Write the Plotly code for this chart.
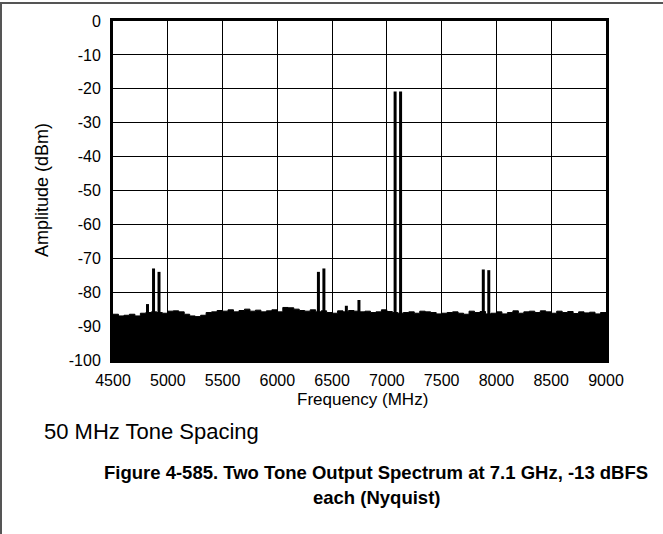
import plotly.graph_objects as go

# Noise floor envelope (dBm), every 50 MHz from 4500 to 9000
noise_freq = list(range(4500, 9001, 50))
noise_level = [
    -86.5, -87.0, -86.8, -86.5, -87.0, -86.2, -86.0, -85.8, -86.0, -86.2,
    -85.6, -85.5, -85.8, -86.5, -87.0, -87.2, -86.8, -86.0, -85.8, -85.4,
    -85.6, -85.2, -85.8, -85.4, -85.0, -85.6, -85.3, -85.8, -85.5, -85.2,
    -85.8, -84.5, -84.6, -85.0, -85.4, -85.6, -85.2, -85.8, -85.5, -86.0,
    -86.2, -85.5, -85.8, -85.4, -85.6, -85.8, -85.6, -86.0, -85.8, -85.2,
    -85.7, -86.0, -86.2, -86.0, -85.8, -86.2, -85.6, -85.8, -86.0, -86.4,
    -86.2, -86.0, -85.8, -86.2, -86.5, -85.6, -86.0, -85.7, -86.4, -86.2,
    -85.8, -86.4, -86.0, -85.5, -86.2, -85.8, -85.6, -86.0, -85.5, -85.8,
    -86.2, -85.6, -86.0, -85.7, -86.3, -85.8, -86.1, -85.9, -86.4, -86.0,
    -86.2,
]

# Discrete tones and spurs (MHz, dBm)
tone_freq = [4815, 4870, 4920, 6375, 6425, 6630, 6745, 7075, 7125, 7880, 7930]
tone_level = [-83.5, -73.0, -74.0, -74.0, -73.0, -84.0, -82.3, -20.8, -20.8, -73.3, -73.5]

x_ticks = list(range(4500, 9001, 500))
y_ticks = list(range(-100, 1, 10))

FLOOR = -100

fig = go.Figure()
fig.add_trace(go.Scatter(x=noise_freq, y=[FLOOR] * len(noise_freq), mode="lines",
                         line=dict(width=0, color="black"), showlegend=False, hoverinfo="skip"))
fig.add_trace(go.Scatter(x=noise_freq, y=noise_level, mode="lines", line_shape="hv",
                         line=dict(width=1, color="black"), fill="tonexty",
                         fillcolor="black", showlegend=False))

sx, sy = [], []
for f, v in zip(tone_freq, tone_level):
    sx += [f, f, None]
    sy += [FLOOR, v, None]
fig.add_trace(go.Scatter(x=sx, y=sy, mode="lines", line=dict(width=3, color="black"),
                         showlegend=False))

L, R, T, B = 113, 606, 21, 360
W, H = 663, 534
pw, ph = R - L, B - T


def px(x):
    return (x - L) / pw


def py(y):
    return (B - y) / ph


def note(text, x, y, size, angle=0, xanchor="center"):
    return dict(text=text, x=px(x), y=py(y), xref="paper", yref="paper",
                xanchor=xanchor, yanchor="middle", showarrow=False,
                textangle=angle, font=dict(size=size))


font = "Liberation Sans, Arial, sans-serif"
fig.update_layout(
    width=W, height=H,
    margin=dict(l=L, r=W - R, t=T, b=H - B),
    paper_bgcolor="white", plot_bgcolor="white",
    font=dict(family=font, color="black"),
    xaxis=dict(range=[4500, 9000], tickvals=x_ticks, ticktext=[str(v) for v in x_ticks],
               showgrid=True, gridcolor="black", gridwidth=1,
               showline=True, mirror=True, linecolor="black", linewidth=3,
               ticks="", tickfont=dict(size=16), zeroline=False, ticklabelstandoff=4),
    yaxis=dict(range=[-100, 0], tickvals=y_ticks, ticktext=[str(v) for v in y_ticks],
               showgrid=True, gridcolor="black", gridwidth=1,
               showline=True, mirror=True, linecolor="black", linewidth=3,
               ticks="", tickfont=dict(size=16), zeroline=False, ticklabelstandoff=6),
    annotations=[
        note("Amplitude (dBm)", 42, 190, 18, angle=-90),
        note("Frequency (MHz)", 362, 399, 17),
        note("50 MHz Tone Spacing", 42, 431, 22, xanchor="left"),
        note("<b>Figure 4-585. Two Tone Output Spectrum at 7.1 GHz, -13 dBFS</b>", 376, 472, 18.5),
        note("<b>each (Nyquist)</b>", 376, 497, 18.5),
    ],
    shapes=[
        dict(type="rect", xref="paper", yref="paper", layer="above",
             x0=px(1), x1=px(W + 40), y0=py(3), y1=py(H + 40),
             line=dict(color="#555555", width=2), fillcolor="rgba(0,0,0,0)"),
    ],
)

post = (
    "document.body.style.margin='0';document.body.style.overflow='hidden';"
    "var d=document.createElement('div');"
    "d.style.cssText='position:absolute;left:0;top:2px;width:663px;height:2px;"
    "background:#555;z-index:1000;pointer-events:none;';"
    "document.body.appendChild(d);"
)
fig.write_html("out.html", config={"displayModeBar": False}, post_script=post)
